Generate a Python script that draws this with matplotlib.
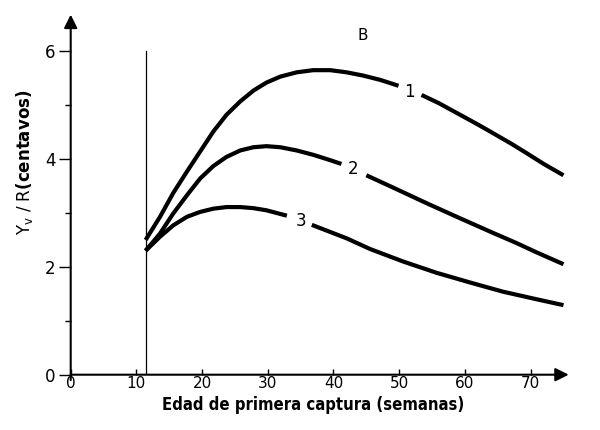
import matplotlib
matplotlib.use("Agg")
import matplotlib.pyplot as plt

# --- data ---
c1_left_x = [11.4, 13.6, 15.6, 17.7, 19.7, 21.7, 23.7, 25.8, 27.8, 29.8, 31.9, 34.4, 36.9, 39.5, 42.0, 44.5, 47.1, 49.9]
c1_left_y = [2.50, 2.93, 3.37, 3.77, 4.14, 4.51, 4.82, 5.07, 5.27, 5.42, 5.53, 5.61, 5.65, 5.65, 5.61, 5.55, 5.47, 5.36]
c1_right_x = [53.4, 56.0, 59.3, 62.0, 64.3, 67.0, 69.4, 72.0, 75.0]
c1_right_y = [5.19, 5.04, 4.82, 4.64, 4.48, 4.29, 4.11, 3.91, 3.70]

c2_left_x = [11.4, 13.6, 15.6, 17.7, 19.7, 21.7, 23.7, 25.8, 27.8, 29.8, 31.9, 34.4, 36.9, 39.5, 41.2]
c2_left_y = [2.30, 2.62, 2.99, 3.33, 3.64, 3.87, 4.04, 4.16, 4.22, 4.24, 4.22, 4.16, 4.08, 3.98, 3.91]
c2_right_x = [45.0, 49.1, 54.2, 59.3, 64.3, 67.9, 70.9, 75.0]
c2_right_y = [3.70, 3.47, 3.18, 2.90, 2.63, 2.44, 2.27, 2.05]

c3_left_x = [11.4, 13.6, 15.6, 17.7, 19.7, 21.7, 23.7, 25.8, 27.8, 29.8, 32.9]
c3_left_y = [2.30, 2.56, 2.77, 2.93, 3.02, 3.08, 3.11, 3.11, 3.09, 3.05, 2.95]
c3_right_x = [36.7, 42.0, 45.6, 50.6, 55.7, 60.8, 65.8, 70.9, 75.0]
c3_right_y = [2.78, 2.53, 2.33, 2.10, 1.89, 1.71, 1.54, 1.40, 1.29]

curve_labels = ["1", "2", "3"]
label_x = [51.5, 43.0, 35.0]
label_y = [5.25, 3.81, 2.86]

x_ticks = [0, 10, 20, 30, 40, 50, 60, 70]
y_ticks = [0, 2, 4, 6]
y_minor = [1, 3, 5]
vline_x = 11.4
vline_top = 6.0

panel = "B"
xlabel = "Edad de primera captura (semanas)"

# --- figure ---
W, H = 600, 430
fig = plt.figure(figsize=(W / 100, H / 100), dpi=100)
x0_px, px_per_x = 70.7, 6.57
y0_px, px_per_y = 374.7, 53.9
xmax, ymax = 80, 6.8
ax = fig.add_axes([x0_px / W, (H - y0_px) / H, xmax * px_per_x / W, ymax * px_per_y / H])
ax.set_xlim(0, xmax)
ax.set_ylim(0, ymax)
for s in ax.spines.values():
    s.set_visible(False)

lw = 3.0
for xs, ys in [(c1_left_x, c1_left_y), (c1_right_x, c1_right_y),
               (c2_left_x, c2_left_y), (c2_right_x, c2_right_y),
               (c3_left_x, c3_left_y), (c3_right_x, c3_right_y)]:
    ax.plot(xs, ys, color="black", lw=lw, solid_capstyle="butt", solid_joinstyle="round")

for t, lx, ly in zip(curve_labels, label_x, label_y):
    ax.text(lx, ly, t, ha="center", va="center", fontsize=12, color="black")

ax.plot([vline_x, vline_x], [0, vline_top], color="black", lw=0.9)

# axes with arrows
ax.annotate("", xy=(75.8, 0), xytext=(0, 0),
            arrowprops=dict(arrowstyle="-|>", lw=1.5, color="black", mutation_scale=20,
                            shrinkA=0, shrinkB=0), annotation_clip=False)
ax.annotate("", xy=(0, 6.68), xytext=(0, -0.1),
            arrowprops=dict(arrowstyle="-|>", lw=1.5, color="black", mutation_scale=20,
                            shrinkA=0, shrinkB=0), annotation_clip=False)

ax.set_xticks(x_ticks)
ax.set_xticklabels([str(v) for v in x_ticks])
ax.set_yticks(y_ticks)
ax.set_yticklabels([str(v) for v in y_ticks])
ax.set_yticks(y_minor, minor=True)
ax.tick_params(axis="x", direction="in", length=4, width=1, labelsize=11, pad=1)
ax.tick_params(axis="y", which="major", direction="out", length=9, width=1, labelsize=12, pad=2)
ax.tick_params(axis="y", which="minor", direction="out", length=4, width=1)

ax.text(44.5, 6.30, panel, ha="center", va="center", fontsize=11)

fig.text(313 / W, 1 - 395.5 / H, xlabel, ha="center", va="top",
         fontsize=12, fontweight="bold", fontstretch="condensed")
fig.text(25 / W, 1 - 162 / H, r"Y$_\mathregular{v}$ / R$\mathbf{(centavos)}$",
         ha="center", va="center", rotation=90, fontsize=12)

fig.savefig("out.png", dpi=100)
